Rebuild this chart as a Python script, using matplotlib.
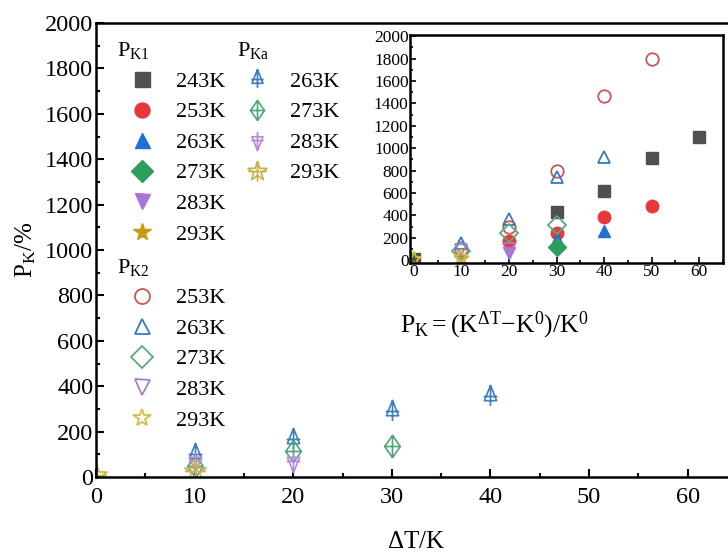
import numpy as np
import matplotlib
matplotlib.use('Agg')
import matplotlib.pyplot as plt
from matplotlib.path import Path
from matplotlib.ticker import MultipleLocator

plt.rcParams['font.family'] = 'Liberation Serif'
plt.rcParams['mathtext.fontset'] = 'custom'
plt.rcParams['mathtext.rm'] = 'Liberation Serif'
plt.rcParams['mathtext.it'] = 'Liberation Serif:italic'

# === data ===
k1_labels = ['243K', '253K', '263K', '273K', '283K', '293K']
k1_x = [[0, 30, 40, 50, 60], [20, 30, 40, 50], [30, 40], [30], [20], [10]]
k1_y = [[10, 430, 620, 910, 1100], [170, 240, 385, 480], [190, 260], [120], [60], [20]]

k2_labels = ['253K', '263K', '273K', '283K', '293K']
k2_x = [[10, 20, 30, 40, 50], [10, 20, 30, 40], [10, 20, 30], [10, 20], [0, 10]]
k2_y = [[100, 300, 800, 1470, 1800], [150, 370, 740, 920], [80, 240, 310], [90, 100], [10, 30]]

ka_labels = ['263K', '273K', '283K', '293K']
ka_x = [[10, 20, 30, 40], [10, 20, 30], [10, 20], [0, 10]]
ka_y = [[100, 168, 290, 355], [50, 115, 135], [70, 70], [10, 25]]

# === styles ===
k1_colors = ['#505050', '#e8383d', '#1f6fd6', '#2e9e5f', '#a874d8', '#c99a12']
k1_markers = ['s', 'o', '^', 'D', 'v', '*']
k2_colors = ['#c8575a', '#3a78c0', '#5aaa7a', '#a77cc7', '#d4c040']
k2_markers = ['o', '^', 'D', 'v', '*']
ka_colors = ['#3f7fbf', '#4ea77a', '#b88bd6', '#c8b24a']


def build(polys):
    verts, codes = [], []
    for pts, closed in polys:
        verts += pts
        codes += [Path.MOVETO] + [Path.LINETO] * (len(pts) - 1)
        if closed:
            verts.append(pts[0])
            codes.append(Path.CLOSEPOLY)
    return Path(verts, codes)


tri_up_x = build([([(0, 1.45), (0.8, -0.55), (-0.8, -0.55)], True),
                  ([(0, 1.45), (0, -1.25)], False),
                  ([(-0.9, 0), (0.9, 0)], False)])
dia_x = build([([(0, 1), (0.7, 0), (0, -1), (-0.7, 0)], True),
               ([(0, 1), (0, -1)], False),
               ([(-0.7, 0), (0.7, 0)], False)])
tri_dn_x = build([([(0, -1.45), (0.8, 0.55), (-0.8, 0.55)], True),
                  ([(0, -1.45), (0, 1.25)], False),
                  ([(-0.9, 0), (0.9, 0)], False)])
star = Path.unit_regular_star(5, 0.4)
star_x = build([([tuple(v) for v in star.vertices[:-1]], True),
                ([(0, 1), (0, -1)], False),
                ([(-0.95, 0), (0.95, 0)], False)])
ka_markers = [tri_up_x, dia_x, tri_dn_x, star_x]

# === figure ===
fig = plt.figure(figsize=(7.28, 5.55), dpi=100)
ax = fig.add_axes([96 / 728, 78 / 555, 641 / 728, 454 / 555])

ka_handles = []
for xs, ys, c, m in zip(ka_x, ka_y, ka_colors, ka_markers):
    h, = ax.plot(xs, ys, ls='none', marker=m, ms=16, mfc='none', mec=c, mew=1.2)
    ka_handles.append(h)

ax.set_xlim(0, 65)
ax.set_ylim(0, 2000)
ax.xaxis.set_major_locator(MultipleLocator(10))
ax.xaxis.set_minor_locator(MultipleLocator(5))
ax.yaxis.set_major_locator(MultipleLocator(200))
ax.yaxis.set_minor_locator(MultipleLocator(100))
ax.tick_params(which='both', direction='in', width=1.5, labelsize=17.5, pad=2)
ax.tick_params(axis='x', which='major', pad=7)
ax.tick_params(which='major', length=6)
ax.tick_params(which='minor', length=3)
for s in ax.spines.values():
    s.set_linewidth(1.8)
ax.set_xlabel(r'$\Delta$T/K', fontsize=18)
ax.set_ylabel(r'$\mathrm{P_K}$/%', fontsize=18)
ax.xaxis.set_label_coords(0.5, -0.12)
ax.yaxis.set_label_coords(-0.09, 0.5)

ax.text(0.621, 0.335, r'$\mathrm{P_K{=}(K^{\Delta T}{-}K^0)/K^0}$', fontsize=18.5,
        ha='center', va='center', transform=ax.transAxes)

# === inset ===
ins = fig.add_axes([410 / 728, 292 / 555, 313 / 728, 228 / 555])
k1_handles = []
for xs, ys, c, m in zip(k1_x, k1_y, k1_colors, k1_markers):
    h, = ins.plot(xs, ys, ls='none', marker=m, ms=9 if m != '*' else 11, color=c, mec=c)
    k1_handles.append(h)
k2_handles = []
for xs, ys, c, m in zip(k2_x, k2_y, k2_colors, k2_markers):
    h, = ins.plot(xs, ys, ls='none', marker=m, ms=9 if m != '*' else 11,
                  mfc='none', mec=c, mew=1.3)
    k2_handles.append(h)

ins.set_xlim(-0.8, 65)
ins.set_ylim(-25, 2010)
ins.xaxis.set_major_locator(MultipleLocator(10))
ins.xaxis.set_minor_locator(MultipleLocator(5))
ins.yaxis.set_major_locator(MultipleLocator(200))
ins.yaxis.set_minor_locator(MultipleLocator(100))
ins.tick_params(which='both', direction='in', width=1.2, labelsize=12.5, pad=1)
ins.tick_params(which='major', length=4)
ins.tick_params(which='minor', length=2)
for s in ins.spines.values():
    s.set_linewidth(1.8)

# === legends ===
leg_kw = dict(frameon=False, fontsize=16, title_fontsize=16, alignment='left',
              borderpad=0, borderaxespad=0, labelspacing=0.45, loc='upper left')
leg1 = ax.legend(k1_handles, k1_labels, title=r'$\mathrm{P_{K1}}$',
                 bbox_to_anchor=(0.033, 0.962), handlelength=2.2,
                 handletextpad=0.45, markerscale=1.2, **leg_kw)
ax.add_artist(leg1)
leg2 = ax.legend(ka_handles, ka_labels, title=r'$\mathrm{P_{Ka}}$',
                 bbox_to_anchor=(0.22, 0.962), handlelength=1.8,
                 handletextpad=0.6, markerscale=0.9, **leg_kw)
ax.add_artist(leg2)
ax.legend(k2_handles, k2_labels, title=r'$\mathrm{P_{K2}}$',
          bbox_to_anchor=(0.033, 0.485), handlelength=2.2,
          handletextpad=0.45, markerscale=1.2, **leg_kw)

fig.savefig('out.png', dpi=100)
